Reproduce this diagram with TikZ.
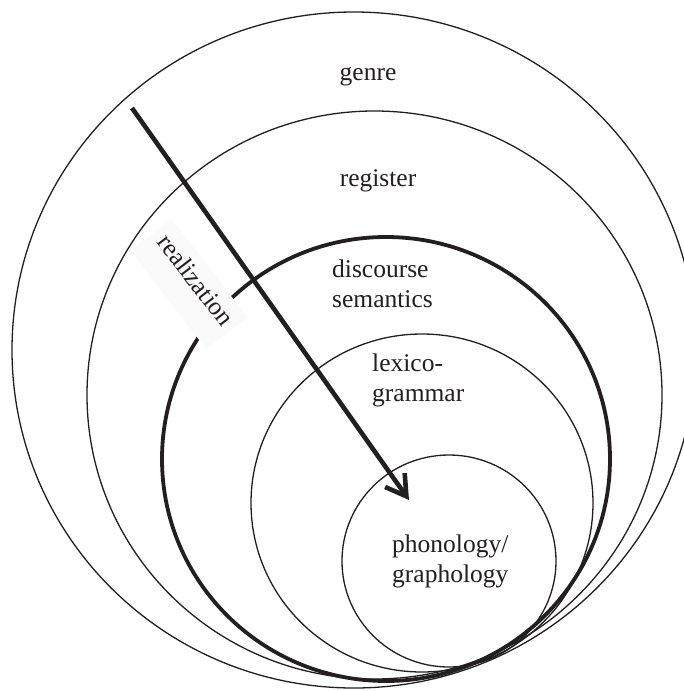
\documentclass[tikz,border=0pt]{standalone}
\usepackage{fontspec}
\setmainfont{Liberation Serif}
\usetikzlibrary{arrows.meta}
\definecolor{ink}{HTML}{231F20}
\begin{document}
\begin{tikzpicture}[x=1pt,y=-1pt,
  ring/.style={draw=ink, line width=1.3pt},
  corering/.style={draw=ink, line width=3.8pt},
  lbl/.style={font=\fontsize{25.5}{30}\selectfont, text=ink, inner sep=0pt, align=left},
  realarrow/.style={draw=ink, line width=4.6pt, -{Straight Barb[length=20pt,width=24pt]}},
  tagbox/.style={fill=black!2, draw=none, inner sep=0pt}]
\useasboundingbox (0,0) rectangle (683,691);
\fill[white] (0,0) rectangle (683,691);

% centres of the nested strata
\coordinate (cGenre)    at (354,350);
\coordinate (cRegister) at (374.5,395);
\coordinate (cDisc)     at (386,459);
\coordinate (cLex)      at (422,503);
\coordinate (cPhon)     at (449,561);

% strata
\draw[ring]     (cGenre)    ellipse [x radius=342,   y radius=338];
\draw[ring]     (cRegister) ellipse [x radius=287.5, y radius=284];
\draw[corering] (cDisc)     ellipse [x radius=224,   y radius=222];
\draw[ring]     (cLex)      ellipse [x radius=171,   y radius=169];
\draw[ring]     (cPhon)     ellipse [x radius=107,   y radius=106];

% label of the realization arrow on its own pale tag
\node[tagbox, rotate=-52.5, minimum width=124pt, minimum height=52pt] (realBox) at (189,284) {};
\node[lbl, rotate=-52.5] (realTxt) at (196,280) {realization};

% stratum names (two-line names sit on the baseline of their last line)
\node[lbl, anchor=base]      (genreLbl)    at (368,80)  {genre};
\node[lbl, anchor=base]      (registerLbl) at (378,186) {register};
\node[lbl, anchor=base west] (discLbl)     at (332,307) {discourse\\semantics};
\node[lbl, anchor=base west] (lexLbl)      at (372,401) {lexico-\\grammar};
\node[lbl, anchor=base west] (phonLbl)     at (392,582) {phonology/\\graphology};

% realization arrow
\coordinate (arrowTail) at (132,108);
\coordinate (arrowTip)  at (409,500);
\draw[realarrow] (arrowTail) -- (arrowTip);
\end{tikzpicture}
\end{document}
